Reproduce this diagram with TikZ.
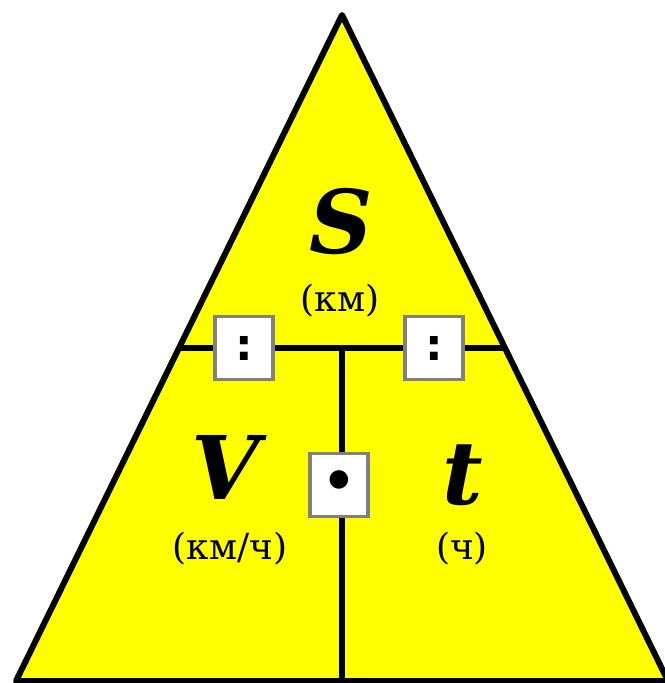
\documentclass[tikz,border=0pt]{standalone}
\usepackage{fontspec}
\setmainfont{DejaVu Serif}
\newfontfamily\opsfont{DejaVu Sans}
\usetikzlibrary{calc}
\definecolor{trifill}{HTML}{FFFF00}
\definecolor{opsframe}{HTML}{808080}
\begin{document}
\begin{tikzpicture}[x=0.02cm, y=-0.02cm,
    edge/.style={line width=3.4pt, line join=round},
    opbox/.style={draw=opsframe, line width=2pt, fill=white,
      minimum width=1.16cm, minimum height=1.26cm, inner sep=0pt,
      font=\fontsize{25}{25}\selectfont\opsfont\bfseries},
    qty/.style={font=\fontsize{50}{50}\selectfont\bfseries\itshape, inner sep=0pt},
    unit/.style={font=\fontsize{20.5}{20.5}\selectfont, inner sep=0pt}]
  \useasboundingbox (0,0) rectangle (664,683);
  \coordinate (apex) at (342,15);
  \coordinate (bl) at (16,681);
  \coordinate (br) at (668,681);
  \coordinate (ml) at ($(apex)!0.5!(bl)$);
  \coordinate (mr) at ($(apex)!0.5!(br)$);
  \coordinate (mid) at ($(ml)!0.5!(mr)$);
  \coordinate (bm) at ($(bl)!0.5!(br)$);
  \fill[trifill] (apex) -- (bl) -- (br) -- cycle;
  \draw[edge] (ml) -- (mr);
  \draw[edge] (mid) -- (bm);
  \draw[edge] (apex) -- (bl) -- (br) -- cycle;
  % величины и единицы
  \node[qty] (dist) at (341,222) {S};
  \node[unit] (distunit) at (340,301) {(км)};
  \node[qty] (speed) at (226,467) {V};
  \node[unit] (speedunit) at (230,549) {(км/ч)};
  \node[qty] (time) at (463,475) {t};
  \node[unit] (timeunit) at (462,549) {(ч)};
  % знаки действий
  \node[opbox] (divleft) at (244,348) {:};
  \node[opbox] (divright) at (434,348) {:};
  \node[opbox, font=\fontsize{30}{30}\selectfont\opsfont\bfseries] (mult) at (339,485) {•};
\end{tikzpicture}
\end{document}
